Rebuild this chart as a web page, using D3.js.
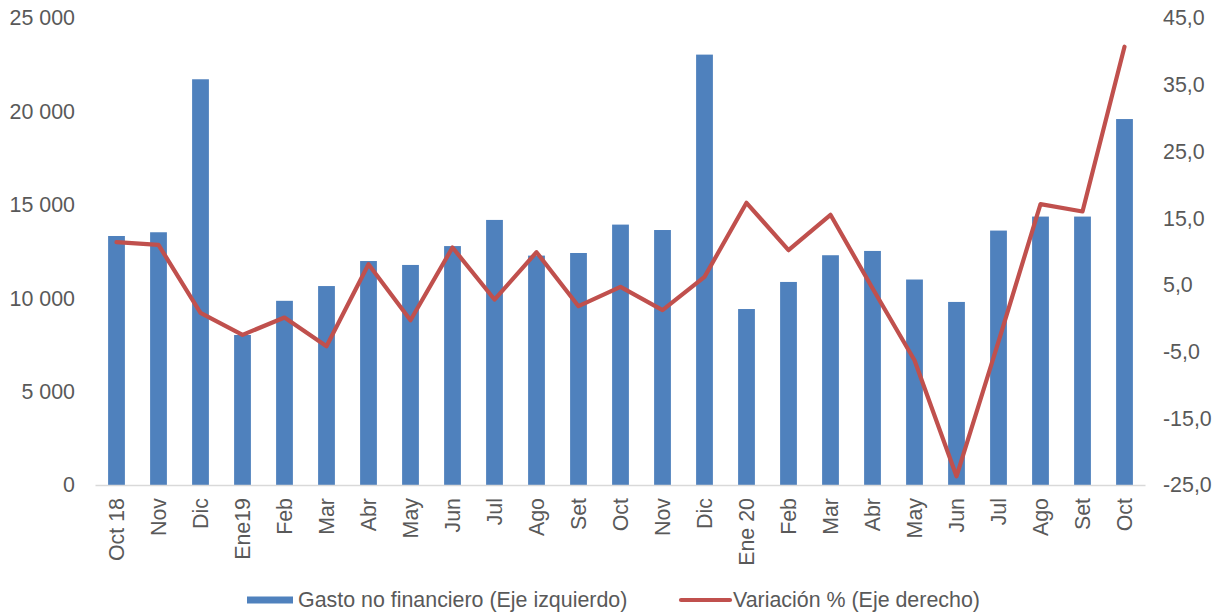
<!DOCTYPE html>
<html><head><meta charset="utf-8">
<script src="https://cdn.jsdelivr.net/npm/d3@7"></script>
<style>body{margin:0;background:#fff}svg{display:block}text{font-family:"Liberation Sans",Arial,sans-serif;fill:#595959}</style>
</head><body>
<svg id="c" width="1219" height="613"></svg>
<script>
const categories = ["Oct 18","Nov","Dic","Ene19","Feb","Mar","Abr","May","Jun","Jul","Ago","Set","Oct","Nov","Dic","Ene 20","Feb","Mar","Abr","May","Jun","Jul","Ago","Set","Oct"];
const gasto = [13330,13530,21720,8030,9860,10650,11990,11780,12790,14190,12280,12420,13940,13650,23040,9420,10870,12300,12530,11000,9800,13620,14370,14370,19590];
const variacion = [11.4,11.0,0.8,-2.5,0.1,-4.2,8.1,-0.3,10.6,2.8,9.9,1.8,4.7,1.2,6.2,17.3,10.2,15.5,4.5,-6.3,-23.7,-3.5,17.1,16.0,40.7];
const leftTicks = [0,5000,10000,15000,20000,25000];
const rightTicks = [-25,-15,-5,5,15,25,35,45];
const legendLabels = ["Gasto no financiero (Eje izquierdo)","Variación % (Eje derecho)"];

const svg = d3.select("#c");
const x = d3.scaleBand().domain(categories.map((d,i)=>i)).range([95.5,1145.5]).paddingInner(0.6).paddingOuter(0.3);
const yL = d3.scaleLinear().domain([0,25000]).range([485,18]);
const yR = d3.scaleLinear().domain([-25,45]).range([485,18]);
const fs = 21.4;
const fmtL = v => d3.format(",")(v).replace(/,/g," ");
const fmtR = v => v.toFixed(1).replace(".",",");

// bars
svg.append("g").selectAll("rect").data(gasto).join("rect")
  .attr("x",(d,i)=>x(i)).attr("width",x.bandwidth())
  .attr("y",d=>yL(d)).attr("height",d=>yL(0)-yL(d))
  .attr("fill","#4F81BD");

// baseline
svg.append("line").attr("x1",95.5).attr("x2",1145.5).attr("y1",485.5).attr("y2",485.5)
  .attr("stroke","#D9D9D9").attr("stroke-width",1.5);

// left axis
const gl = svg.append("g").attr("transform","translate(75,0)")
  .call(d3.axisLeft(yL).tickValues(leftTicks).tickFormat(fmtL).tickSize(0).tickPadding(0));
gl.select(".domain").remove();
gl.selectAll("text").attr("font-size",fs).style("font-family","Liberation Sans, Arial, sans-serif").attr("fill","#595959");

// right axis
const gr = svg.append("g").attr("transform","translate(1163,0)")
  .call(d3.axisRight(yR).tickValues(rightTicks).tickFormat(fmtR).tickSize(0).tickPadding(0));
gr.select(".domain").remove();
gr.selectAll("text").attr("font-size",fs).style("font-family","Liberation Sans, Arial, sans-serif").attr("fill","#595959");

// x labels
svg.append("g").selectAll("text").data(categories).join("text")
  .attr("transform",(d,i)=>`translate(${x(i)+x.bandwidth()/2},498) rotate(-90)`)
  .attr("text-anchor","end").attr("dy","0.35em").attr("font-size",fs).text(d=>d);

// line
const line = d3.line().x((d,i)=>x(i)+x.bandwidth()/2).y(d=>yR(d));
svg.append("path").datum(variacion).attr("d",line).attr("fill","none")
  .attr("stroke","#C0504D").attr("stroke-width",4.2).attr("stroke-linejoin","round").attr("stroke-linecap","round");

// legend
svg.append("rect").attr("x",247).attr("y",596.5).attr("width",46).attr("height",7).attr("fill","#4F81BD");
svg.append("text").attr("x",298).attr("y",600).attr("dy","0.35em").attr("font-size",fs).text(legendLabels[0]);
svg.append("line").attr("x1",681).attr("x2",730).attr("y1",600).attr("y2",600).attr("stroke","#C0504D").attr("stroke-width",4.2).attr("stroke-linecap","round");
svg.append("text").attr("x",733).attr("y",600).attr("dy","0.35em").attr("font-size",fs).text(legendLabels[1]);
</script>
</body></html>
